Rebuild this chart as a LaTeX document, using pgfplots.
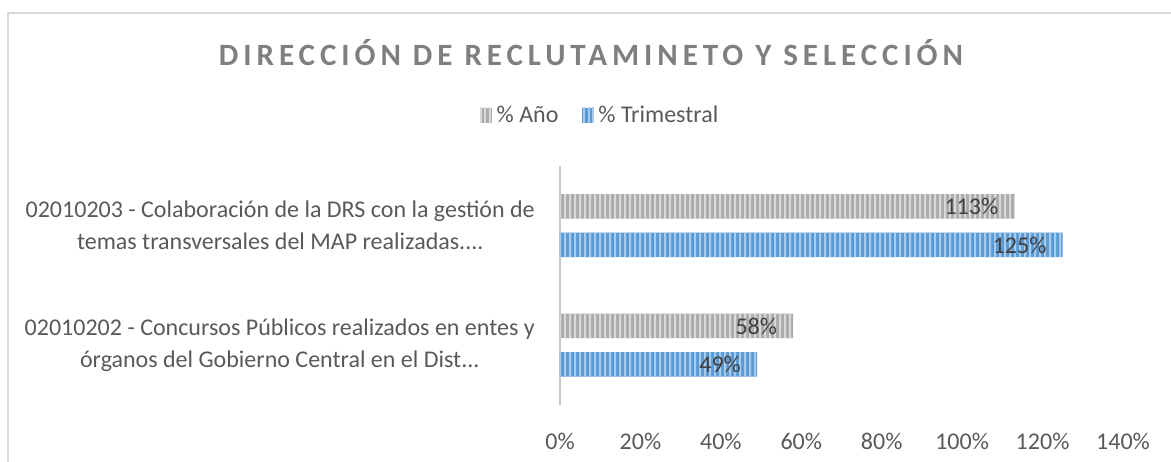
\documentclass[border=0pt]{standalone}
\usepackage{pgfplots}
\pgfplotsset{compat=1.18}
\usetikzlibrary{patterns}
\usepackage{fontspec}
\setmainfont{Carlito}
\newfontfamily\titlefont[LetterSpace=16]{Carlito}
\definecolor{txt}{HTML}{595959}
\definecolor{ttl}{HTML}{7F7F7F}
\definecolor{lbl}{HTML}{404040}
\definecolor{framec}{HTML}{D9D9D9}
\definecolor{axln}{HTML}{C8C8C8}
\definecolor{grayA}{HTML}{ABABAB}
\definecolor{grayB}{HTML}{D9D9D9}
\definecolor{blueA}{HTML}{5B9BD5}
\definecolor{blueB}{HTML}{A8CBEB}
\pgfdeclarepatternformonly{vstripes}{\pgfpointorigin}{\pgfqpoint{4.7pt}{100pt}}{\pgfqpoint{4.7pt}{100pt}}{\pgfpathrectangle{\pgfpointorigin}{\pgfqpoint{2.3pt}{100pt}}\pgfusepath{fill}}
\newcommand{\bodyfont}{\fontsize{24}{32}\selectfont}
\DeclareRobustCommand{\labA}{02010202 - Concursos Públicos realizados en entes y\\órganos del Gobierno Central en el Dist.{}.{}.}
\DeclareRobustCommand{\labB}{02010203 - Colaboración de la DRS con la gestión de\\temas transversales del MAP realizadas.{}.{}.{}.}
\begin{document}
\begin{tikzpicture}[x=1pt,y=1pt]
\useasboundingbox (0,0) rectangle (1171,462);
\draw[framec, line width=2pt] (8,-5) -- (8,449) -- (1180,449);
\node[font=\titlefont\bfseries\fontsize{31}{36}\selectfont, text=ttl] at (591,409) {DIRECCIÓN DE RECLUTAMINETO Y SELECCIÓN};
\begin{axis}[
  at={(560pt,57pt)}, anchor=south west, scale only axis,
  width=563pt, height=239pt,
  xbar, bar width=24.5pt,
  xmin=0, xmax=140, ymin=-0.5, ymax=1.5,
  xtick={0,20,...,140}, ytick={0,1},
  yticklabels={\labA,\labB},
  axis x line=bottom, axis y line=left,
  x axis line style={draw=none},
  y axis line style={draw=axln, line width=2.5pt, -},
  major tick length=0pt,
  /pgf/number format/assume math mode=true,
  xticklabel={\pgfmathprintnumber{\tick}\%},
  xticklabel style={font=\bodyfont, text=txt, anchor=center, yshift=-36pt},
  yticklabel style={font=\bodyfont, text=txt, align=center, anchor=east, inner sep=0pt, xshift=-25pt},
  point meta=x,
  nodes near coords={\pgfmathprintnumber{\pgfplotspointmeta}\%},
  every node near coord/.append style={anchor=east, inner sep=0pt, xshift=-16pt, font=\bodyfont, text=lbl},
  legend columns=2,
  legend style={at={(0.071,1.213)}, anchor=center, draw=none, fill=none, font=\bodyfont, text=txt,
    nodes={inner sep=1.5pt},
    /tikz/every even column/.append style={column sep=22pt}},
  legend image code/.code={\fill[#1] (0pt,-7.5pt) rectangle (12pt,7.5pt);},
]
\addplot[fill=grayA, draw=none, postaction={pattern=vstripes, pattern color=grayB}, bar shift=19.25pt] coordinates {(58,0) (113,1)};
\addlegendentry{\hspace{3pt}\% Año}
\addplot[fill=blueA, draw=none, postaction={pattern=vstripes, pattern color=blueB}, bar shift=-19.25pt] coordinates {(49,0) (125,1)};
\addlegendentry{\hspace{3pt}\% Trimestral}
\end{axis}
\end{tikzpicture}
\end{document}
